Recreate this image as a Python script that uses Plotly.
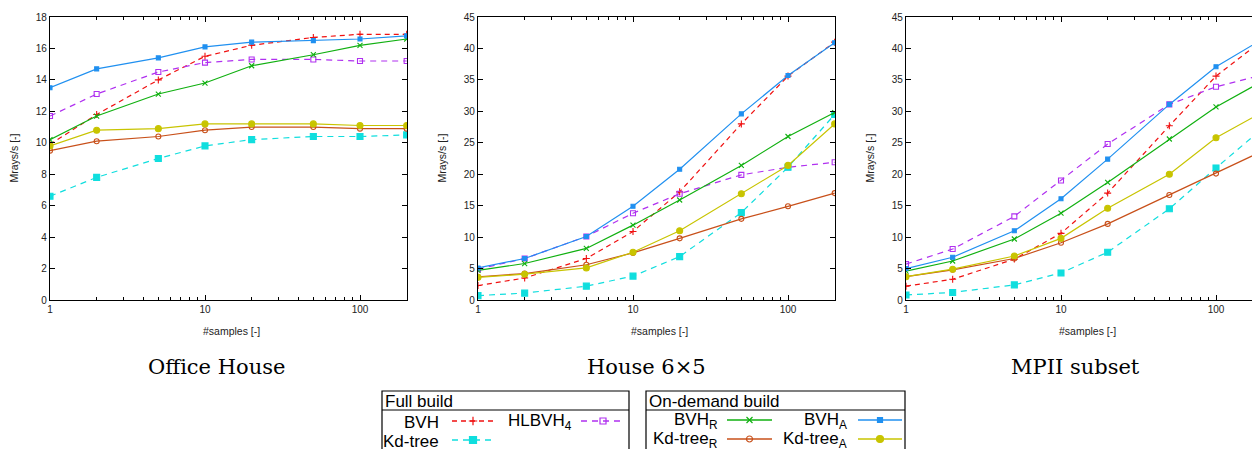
import math
import plotly.graph_objects as go

W, H = 1252, 449

# ---------------- data ----------------
samples = [1, 2, 5, 10, 20, 50, 100, 200]
x_tick_vals = [1, 10, 100]
x_tick_text = ["1", "10", "100"]

scene_titles = ["Office House", "House 6\u00d75", "MPII subset"]
y_label = "Mrays/s [-]"
x_label = "#samples [-]"

# Office House
office_bvh = [9.9, 11.8, 14.0, 15.5, 16.2, 16.7, 16.9, 16.9]
office_hlbvh4 = [11.7, 13.1, 14.5, 15.1, 15.3, 15.3, 15.2, 15.2]
office_kdtree = [6.6, 7.8, 9.0, 9.8, 10.2, 10.4, 10.4, 10.5]
office_bvh_r = [10.2, 11.7, 13.1, 13.8, 14.9, 15.6, 16.2, 16.6]
office_bvh_a = [13.5, 14.7, 15.4, 16.1, 16.4, 16.5, 16.6, 16.8]
office_kdtree_r = [9.5, 10.1, 10.4, 10.8, 11.0, 11.0, 10.9, 10.9]
office_kdtree_a = [9.8, 10.8, 10.9, 11.2, 11.2, 11.2, 11.1, 11.1]

# House 6x5
house_bvh = [2.3, 3.5, 6.6, 10.9, 17.2, 28.0, 35.6, 41.0]
house_hlbvh4 = [4.9, 6.6, 10.1, 13.8, 16.9, 19.9, 21.1, 21.9]
house_kdtree = [0.7, 1.1, 2.2, 3.8, 6.9, 13.9, 21.1, 29.5]
house_bvh_r = [4.7, 5.8, 8.2, 11.9, 15.9, 21.4, 26.0, 29.8]
house_bvh_a = [5.1, 6.6, 10.1, 14.9, 20.8, 29.6, 35.7, 40.9]
house_kdtree_r = [3.7, 4.2, 5.6, 7.5, 9.8, 12.9, 14.9, 17.0]
house_kdtree_a = [3.6, 4.1, 5.1, 7.6, 11.0, 16.9, 21.4, 28.0]

# MPII subset
mpii_bvh = [2.2, 3.3, 6.5, 10.6, 17.0, 27.7, 35.6, 41.3]
mpii_hlbvh4 = [5.7, 8.1, 13.3, 19.0, 24.8, 31.1, 33.9, 35.8]
mpii_kdtree = [0.8, 1.2, 2.4, 4.3, 7.6, 14.5, 21.0, 27.3]
mpii_bvh_r = [4.6, 6.2, 9.7, 13.8, 18.7, 25.6, 30.7, 34.8]
mpii_bvh_a = [5.0, 6.8, 11.0, 16.1, 22.4, 31.1, 37.1, 41.5]
mpii_kdtree_r = [3.7, 4.8, 6.6, 9.1, 12.1, 16.7, 20.1, 23.7]
mpii_kdtree_a = [3.7, 4.9, 7.0, 9.8, 14.6, 20.0, 25.8, 29.9]

series_keys = ["bvh", "hlbvh4", "kdtree", "bvh_r", "bvh_a", "kdtree_r", "kdtree_a"]
scenes = [
    [office_bvh, office_hlbvh4, office_kdtree, office_bvh_r, office_bvh_a, office_kdtree_r, office_kdtree_a],
    [house_bvh, house_hlbvh4, house_kdtree, house_bvh_r, house_bvh_a, house_kdtree_r, house_kdtree_a],
    [mpii_bvh, mpii_hlbvh4, mpii_kdtree, mpii_bvh_r, mpii_bvh_a, mpii_kdtree_r, mpii_kdtree_a],
]
y_max = [18, 45, 45]
y_dtick = [2, 5, 5]

# ---------------- styles ----------------
styles = {
    "bvh": dict(color="#f01010", dash="5px,4px", symbol="cross-thin-open", size=5, name="BVH"),
    "hlbvh4": dict(color="#b030f0", dash="6px,5px", symbol="square-open", size=5, name="HLBVH<sub>4</sub>"),
    "kdtree": dict(color="#10dede", dash="6px,5px", symbol="square", size=6, name="Kd-tree"),
    "bvh_r": dict(color="#10b010", dash="solid", symbol="x-thin-open", size=5, name="BVH<sub>R</sub>"),
    "bvh_a": dict(color="#2090f0", dash="solid", symbol="square", size=4, name="BVH<sub>A</sub>"),
    "kdtree_r": dict(color="#c8501a", dash="solid", symbol="circle-open", size=5, name="Kd-tree<sub>R</sub>"),
    "kdtree_a": dict(color="#c8c400", dash="solid", symbol="circle", size=6, name="Kd-tree<sub>A</sub>"),
}

def px(x):
    return x / W

def py(y):
    return 1 - y / H

# plot areas in pixels: (left, right, top, bottom)
areas = [(50, 407, 17, 300), (478, 835, 17, 300), (906, 1263, 17, 300)]
title_x = [216, 646, 1075]
decade_px = 155.0

fig = go.Figure()
tick_font = dict(family="Liberation Sans, Arial, sans-serif", size=10, color="#222")
label_font = dict(family="Liberation Sans, Arial, sans-serif", size=10.5, color="#222")

for i, (scene, area) in enumerate(zip(scenes, areas)):
    ax = "" if i == 0 else str(i + 1)
    left, right, top, bottom = area
    vis_right = min(right, W)
    x_hi = (vis_right - left) / decade_px
    for key, vals in zip(series_keys, scene):
        st = styles[key]
        fig.add_trace(go.Scatter(
            x=samples, y=vals, mode="lines+markers",
            line=dict(color=st["color"], width=1.2, dash=st["dash"]),
            marker=dict(symbol=st["symbol"], size=st["size"], color=st["color"],
                        line=dict(color=st["color"], width=1.1)),
            xaxis="x" + ax, yaxis="y" + ax, showlegend=False,
        ))
    full = right <= W
    fig.update_layout(**{
        "xaxis" + ax: dict(
            type="log", range=[0, x_hi], domain=[px(left), px(vis_right)],
            anchor="y" + ax, tickmode="array", tickvals=x_tick_vals, ticktext=x_tick_text,
            ticks="inside", ticklen=5, tickcolor="black", tickwidth=1,
            minor=dict(ticks="inside", ticklen=3, dtick="D1", tickcolor="black", tickwidth=1, showgrid=False),
            showline=True, linecolor="black", linewidth=1.2, mirror="allticks",
            showgrid=False, zeroline=False, tickfont=tick_font, automargin=False,
        ),
        "yaxis" + ax: dict(
            range=[0, y_max[i]], dtick=y_dtick[i], domain=[py(bottom), py(top)],
            anchor="x" + ax, ticks="inside", ticklen=5, tickcolor="black", tickwidth=1,
            showline=True, linecolor="black", linewidth=1.2,
            mirror="allticks" if full else False,
            showgrid=False, zeroline=False, tickfont=tick_font, automargin=False,
        ),
    })
    fig.add_annotation(text=y_label, xref="paper", yref="paper",
                       x=px(left - 36), y=py((top + bottom) / 2), textangle=-90,
                       xanchor="center", yanchor="middle", showarrow=False, font=label_font)
    fig.add_annotation(text=x_label, xref="paper", yref="paper",
                       x=px((left + right) / 2 + 3), y=py(331),
                       xanchor="center", yanchor="middle", showarrow=False, font=label_font)
    fig.add_annotation(text=scene_titles[i], xref="paper", yref="paper",
                       x=px(title_x[i]), y=py(367), xanchor="center", yanchor="middle",
                       showarrow=False, font=dict(family="DejaVu Serif, serif", size=21, color="black"))

# ---------------- legend (pixel-coordinate overlay axis) ----------------
fig.update_layout(
    xaxis4=dict(domain=[0, 1], range=[0, W], visible=False, anchor="y4", fixedrange=True),
    yaxis4=dict(domain=[0, 1], range=[H, 0], visible=False, anchor="x4", fixedrange=True),
)
leg_font = dict(family="Liberation Sans, Arial, sans-serif", size=17, color="black")

for (l, r, head) in [(382, 629, "Full build"), (646, 905, "On-demand build")]:
    fig.add_shape(type="rect", xref="x4", yref="y4", x0=l, x1=r, y0=391, y1=460,
                  line=dict(color="black", width=1.2), fillcolor="rgba(0,0,0,0)")
    fig.add_shape(type="line", xref="x4", yref="y4", x0=l, x1=r, y0=410, y1=410,
                  line=dict(color="black", width=1.2))
    fig.add_annotation(text=head, xref="x4", yref="y4", x=l + 1, y=401, xanchor="left",
                       yanchor="middle", showarrow=False, font=leg_font)

legend_entries = [
    ("bvh", 441, 452, 494, 421),
    ("hlbvh4", 574, 581, 625, 421),
    ("kdtree", 441, 452, 494, 440),
    ("bvh_r", 720, 727, 772, 420),
    ("bvh_a", 849, 858, 902, 420),
    ("kdtree_r", 720, 727, 772, 439),
    ("kdtree_a", 849, 858, 902, 439),
]
for key, tx, s0, s1, yy in legend_entries:
    st = styles[key]
    fig.add_annotation(text=st["name"], xref="x4", yref="y4", x=tx, y=yy + 1,
                       xanchor="right", yanchor="middle", showarrow=False, font=leg_font)
    fig.add_trace(go.Scatter(
        x=[s0, s1], y=[yy, yy], mode="lines", xaxis="x4", yaxis="y4",
        line=dict(color=st["color"], width=1.3, dash=st["dash"]), showlegend=False, hoverinfo="skip",
    ))
    fig.add_trace(go.Scatter(
        x=[(s0 + s1) / 2], y=[yy], mode="markers", xaxis="x4", yaxis="y4",
        marker=dict(symbol=st["symbol"], size=st["size"] + 1, color=st["color"],
                    line=dict(color=st["color"], width=1.2)),
        showlegend=False, hoverinfo="skip",
    ))

fig.update_layout(
    width=W, height=H, margin=dict(l=0, r=0, t=0, b=0, autoexpand=False),
    paper_bgcolor="white", plot_bgcolor="rgba(0,0,0,0)", showlegend=False,
)

fig.write_html("out.html", config={"displayModeBar": False},
               post_script="document.body.style.margin='0px';document.body.style.overflow='hidden';")
